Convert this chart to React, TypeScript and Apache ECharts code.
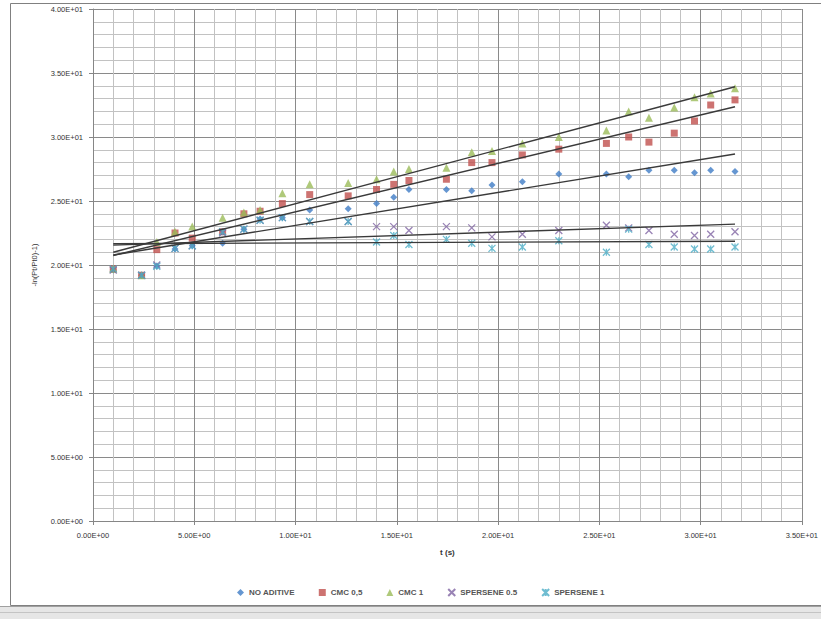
import React, { useEffect, useRef } from "react";
import * as echarts from "echarts";

const tValues = [1.0, 2.4, 3.15, 4.05, 4.9, 6.4, 7.45, 8.25, 9.35, 10.7, 12.6, 14.0, 14.85, 15.6, 17.45, 18.7, 19.7, 21.2, 23.0, 25.35, 26.45, 27.45, 28.7, 29.7, 30.5, 31.7];
const noAditive = [19.6, 19.2, 19.9, 21.25, 21.5, 21.7, 22.8, 23.6, 23.7, 24.3, 24.4, 24.8, 25.3, 25.9, 25.9, 25.8, 26.25, 26.5, 27.1, 27.1, 26.9, 27.4, 27.4, 27.2, 27.4, 27.3];
const cmc05 = [19.7, 19.2, 21.2, 22.5, 22.1, 22.6, 24.0, 24.2, 24.8, 25.5, 25.4, 25.9, 26.3, 26.6, 26.7, 28.0, 28.0, 28.6, 29.05, 29.5, 30.0, 29.6, 30.3, 31.25, 32.5, 32.9];
const cmc1 = [19.7, 19.2, 21.8, 22.6, 23.0, 23.7, 24.1, 24.3, 25.6, 26.3, 26.4, 26.7, 27.3, 27.5, 27.6, 28.8, 28.9, 29.5, 30.0, 30.5, 32.0, 31.5, 32.3, 33.1, 33.4, 33.8];
const spersene05 = [19.6, 19.2, 20.0, 21.3, 21.5, 22.5, 22.8, 23.5, 23.7, 23.4, 23.4, 23.0, 23.0, 22.7, 23.0, 22.9, 22.2, 22.4, 22.7, 23.1, 22.9, 22.7, 22.4, 22.3, 22.4, 22.6];
const spersene1 = [19.7, 19.2, 19.9, 21.3, 21.5, 22.6, 22.8, 23.5, 23.7, 23.4, 23.4, 21.8, 22.3, 21.6, 22.0, 21.7, 21.3, 21.4, 21.9, 21.0, 22.8, 21.6, 21.4, 21.25, 21.25, 21.4];

const seriesNames = ["NO ADITIVE", "CMC 0,5", "CMC 1", "SPERSENE 0.5", "SPERSENE 1"];
const xTicksMax = 35;
const yTicksMax = 40;

function fmt(v: number) {
  const s = v.toExponential(2);
  const m = s.match(/^(-?[\d.]+)e([+-])(\d+)$/);
  if (!m) return s;
  const exp = m[3].length < 2 ? "0" + m[3] : m[3];
  return m[1] + "E" + m[2] + exp;
}

function fit(xs: number[], ys: number[]) {
  const n = xs.length;
  let sx = 0, sy = 0, sxx = 0, sxy = 0;
  for (let i = 0; i < n; i++) {
    sx += xs[i]; sy += ys[i]; sxx += xs[i] * xs[i]; sxy += xs[i] * ys[i];
  }
  const b = (n * sxy - sx * sy) / (n * sxx - sx * sx);
  const a = (sy - b * sx) / n;
  const x0 = xs[0], x1 = xs[n - 1];
  return [[x0, a + b * x0], [x1, a + b * x1]];
}

export default function App() {
  const ref = useRef<HTMLDivElement>(null);
  useEffect(() => {
    if (!ref.current) return;
    const chart = echarts.init(ref.current, undefined, { renderer: "svg" });
    const data = [noAditive, cmc05, cmc1, spersene05, spersene1];
    const colors = ["#3F7CC6", "#C0504D", "#9BBB59", "#8064A2", "#4BACC6"];
    const symbols = [
      "diamond",
      "rect",
      "triangle",
      "path://M0,0L10,10M10,0L0,10",
      "path://M0,0L10,10M10,0L0,10M5,0L5,10",
    ];
    const sizes = [7, 7, 8, 7, 7];
    const scatter = data.map((ys, i) => ({
      name: seriesNames[i],
      type: "scatter",
      data: tValues.map((t, j) => [t, ys[j]]),
      symbol: symbols[i],
      symbolSize: sizes[i],
      itemStyle: i >= 3
        ? { color: "rgba(0,0,0,0)", borderColor: colors[i], borderWidth: 1.3 }
        : { color: colors[i] },
      z: 3,
    }));
    const trends = data.map((ys, i) => ({
      name: "trend" + i,
      type: "line",
      data: fit(tValues, ys),
      symbol: "none",
      lineStyle: { color: "#3a3a3a", width: 1.4 },
      z: 4,
      silent: true,
    }));
    const axisLabel = { fontSize: 7.5, color: "#333", fontFamily: "Liberation Sans", formatter: (v: number) => fmt(v) };
    chart.setOption({
      animation: false,
      color: colors,
      grid: { left: 93, right: 16, top: 9, bottom: 98 },
      xAxis: {
        type: "value",
        min: 0,
        max: xTicksMax,
        interval: 5,
        name: "t (s)",
        nameLocation: "middle",
        nameGap: 27,
        nameTextStyle: { fontSize: 8, fontWeight: "bold", color: "#333", fontFamily: "Liberation Sans" },
        axisLine: { onZero: false, lineStyle: { color: "#868686" } },
        axisTick: { show: true, length: 4, lineStyle: { color: "#868686" } },
        minorTick: { show: false, splitNumber: 5 },
        axisLabel: { ...axisLabel, margin: 10 },
        splitLine: { show: true, lineStyle: { color: "#8a8a8a", width: 1 } },
        minorSplitLine: { show: true, lineStyle: { color: "#c2c2c2", width: 1 } },
      },
      yAxis: {
        type: "value",
        min: 0,
        max: yTicksMax,
        interval: 5,
        name: "-ln(Pt/Pt0)-1)",
        nameLocation: "middle",
        nameGap: 55,
        nameRotate: 90,
        nameTextStyle: { fontSize: 7.5, color: "#333", fontFamily: "Liberation Sans" },
        axisLine: { show: true, onZero: false, lineStyle: { color: "#868686" } },
        axisTick: { show: true, length: 4, lineStyle: { color: "#868686" } },
        minorTick: { show: false, splitNumber: 5 },
        axisLabel: { ...axisLabel, margin: 10 },
        splitLine: { show: true, lineStyle: { color: "#8a8a8a", width: 1 } },
        minorSplitLine: { show: true, lineStyle: { color: "#c2c2c2", width: 1 } },
      },
      legend: {
        data: seriesNames,
        left: 232,
        top: 583,
        itemWidth: 7,
        itemHeight: 7,
        itemGap: 24,
        textStyle: { fontSize: 8, fontWeight: "bold", color: "#555", fontFamily: "Liberation Sans" },
      },
      graphic: [
        { type: "rect", shape: { x: 10.5, y: 3.5, width: 830, height: 602 }, style: { fill: "none", stroke: "#808080", lineWidth: 1 }, silent: true },
        { type: "rect", shape: { x: 0, y: 606, width: 821, height: 13 }, style: { fill: "#e6e6e6", stroke: "none" }, silent: true },
        { type: "line", shape: { x1: 0, y1: 606.5, x2: 821, y2: 606.5 }, style: { stroke: "#a0a0a0", lineWidth: 1 }, silent: true },
        { type: "line", shape: { x1: 0, y1: 612.5, x2: 821, y2: 612.5 }, style: { stroke: "#c4c4c4", lineWidth: 1 }, silent: true },
      ],
      series: [...trends, ...scatter],
    });
    return () => chart.dispose();
  }, []);
  return <div ref={ref} style={{ position: "fixed", left: 0, top: 0, width: 821, height: 619, background: "#fff" }} />;
}
